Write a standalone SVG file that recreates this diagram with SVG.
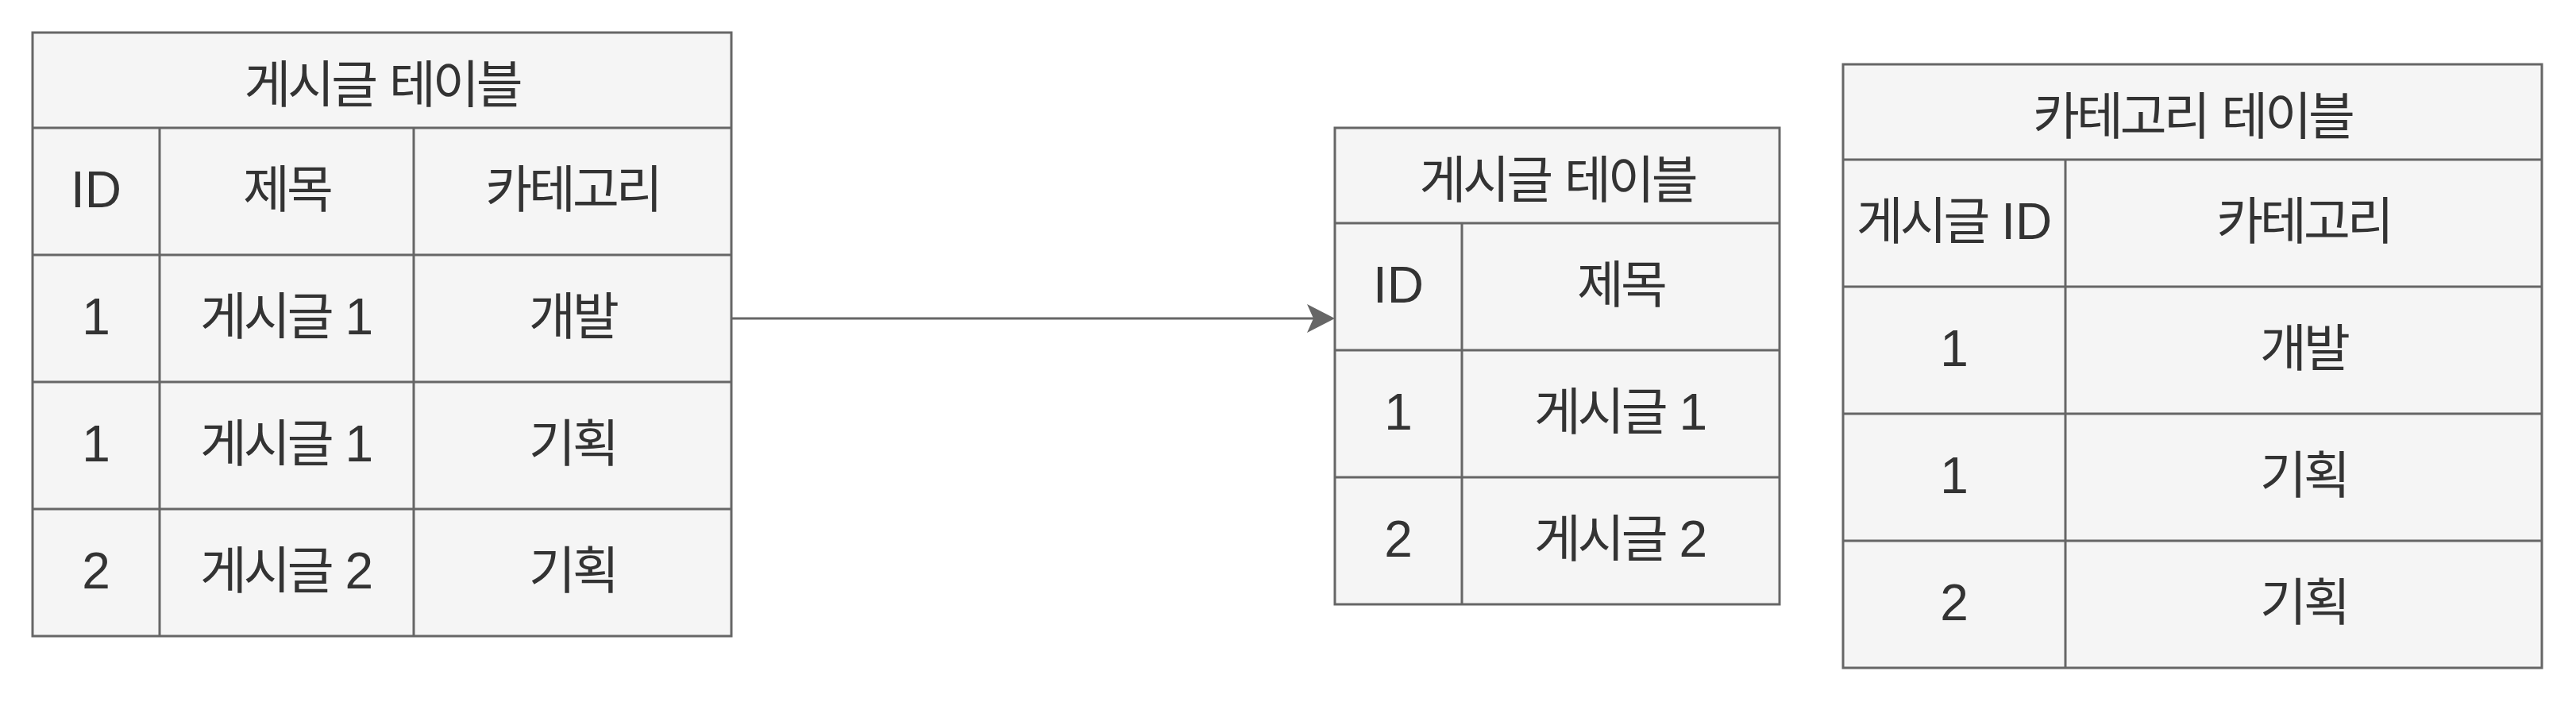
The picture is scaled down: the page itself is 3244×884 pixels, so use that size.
<svg xmlns="http://www.w3.org/2000/svg" width="3244" height="884" viewBox="0 0 3244 884">
<style>
.cell{fill:#f5f5f5;stroke:#666666;stroke-width:3}
.ln{stroke:#666666;stroke-width:3;fill:none}
text{font-family:"Liberation Sans","Noto Sans CJK KR",sans-serif;font-size:64px;fill:#333333;text-anchor:middle}
.k{letter-spacing:-4px}
</style>
<defs>
<marker id="arr" viewBox="-9 -19 37 38" refX="0" refY="0" markerWidth="37" markerHeight="38" markerUnits="userSpaceOnUse" orient="auto">
<path d="M27,0 L-8,-18 L0,0 L-8,18 Z" fill="#666666" stroke="none"/>
</marker>
</defs>
<rect width="3244" height="884" fill="#ffffff"/>
<g id="connectors">
<path class="ln" d="M921,401 L1654,401" marker-end="url(#arr)"/>
</g>
<g id="table-posts">
<rect class="cell" x="41" y="41" width="880" height="760"/>
<path class="ln" d="M41,161H921M41,321H921M41,481H921M41,641H921M201,161V801M521,161V801"/>
<text x="481" y="129"><tspan class="k">게시글</tspan> <tspan class="k">테이블</tspan></text>
<text x="121" y="261">ID</text>
<text class="k" x="361" y="261">제목</text>
<text class="k" x="721" y="261">카테고리</text>
<text x="121" y="421">1</text>
<text x="361" y="421"><tspan class="k">게시글</tspan> 1</text>
<text class="k" x="721" y="421">개발</text>
<text x="121" y="581">1</text>
<text x="361" y="581"><tspan class="k">게시글</tspan> 1</text>
<text class="k" x="721" y="581">기획</text>
<text x="121" y="741">2</text>
<text x="361" y="741"><tspan class="k">게시글</tspan> 2</text>
<text class="k" x="721" y="741">기획</text>
</g>
<g id="table-posts-normalized">
<rect class="cell" x="1681" y="161" width="560" height="600"/>
<path class="ln" d="M1681,281H2241M1681,441H2241M1681,601H2241M1841,281V761"/>
<text x="1961" y="249"><tspan class="k">게시글</tspan> <tspan class="k">테이블</tspan></text>
<text x="1761" y="381">ID</text>
<text class="k" x="2041" y="381">제목</text>
<text x="1761" y="541">1</text>
<text x="2041" y="541"><tspan class="k">게시글</tspan> 1</text>
<text x="1761" y="701">2</text>
<text x="2041" y="701"><tspan class="k">게시글</tspan> 2</text>
</g>
<g id="table-categories">
<rect class="cell" x="2321" y="81" width="880" height="760"/>
<path class="ln" d="M2321,201H3201M2321,361H3201M2321,521H3201M2321,681H3201M2601,201V841"/>
<text x="2761" y="169"><tspan class="k">카테고리</tspan> <tspan class="k">테이블</tspan></text>
<text x="2461" y="301"><tspan class="k">게시글</tspan> ID</text>
<text class="k" x="2901" y="301">카테고리</text>
<text x="2461" y="461">1</text>
<text class="k" x="2901" y="461">개발</text>
<text x="2461" y="621">1</text>
<text class="k" x="2901" y="621">기획</text>
<text x="2461" y="781">2</text>
<text class="k" x="2901" y="781">기획</text>
</g>
</svg>
